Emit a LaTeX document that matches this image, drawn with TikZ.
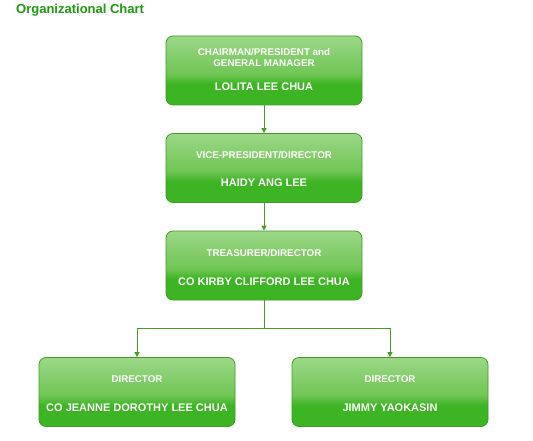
\documentclass[tikz,border=0pt]{standalone}
\usepackage{fontspec}
\setmainfont{Liberation Sans}
\usetikzlibrary{arrows.meta}
\definecolor{gtop}{HTML}{B6E2A6}
\definecolor{gmid}{HTML}{72C657}
\definecolor{gdark}{HTML}{3CB423}
\definecolor{gbot}{HTML}{62CC3C}
\definecolor{gborder}{HTML}{3E9E22}
\definecolor{gline}{HTML}{4A9A2A}
\definecolor{titlegreen}{HTML}{1E9A10}
\pgfdeclareverticalshading{boxshade}{100bp}{color(0bp)=(gbot); color(22bp)=(gdark); color(40bp)=(gdark); color(48bp)=(gmid); color(62bp)=(gmid!70!gtop); color(90bp)=(gtop); color(100bp)=(gtop)}
\tikzset{
  orgbox/.style={draw=gborder, line width=0.8pt, rounded corners=7pt, shading=boxshade, minimum width=196pt, minimum height=69pt, inner sep=0pt},
  lbl/.style={text=white, font=\bfseries\fontsize{9.8}{11.5}\selectfont, align=center, inner sep=0pt},
  nm/.style={text=white, font=\bfseries\fontsize{11}{13}\selectfont, inner sep=0pt},
  conn/.style={draw=gline, line width=0.9pt},
  arr/.style={conn, -{Triangle[length=5pt,width=5pt]}},
}
\begin{document}
\begin{tikzpicture}[x=1pt,y=1pt]
\useasboundingbox[fill=white] (0,0) rectangle (533,-441);
\node[anchor=west, text=titlegreen, font=\bfseries\fontsize{13}{15}\selectfont, inner sep=0pt] (title) at (16,-10) {Organizational Chart};
\node[orgbox] (b1) at (264,-70.5) {};
\node[orgbox] (b2) at (264,-168) {};
\node[orgbox] (b3) at (264,-265.5) {};
\node[orgbox] (b4) at (137,-392) {};
\node[orgbox] (b5) at (390,-392) {};
% texts
\node[lbl] (t1) at (264,-57.5) {CHAIRMAN/PRESIDENT and\\GENERAL MANAGER};
\node[nm] (n1) at (264,-87) {LOLITA LEE CHUA};
\node[lbl] (t2) at (264,-155) {VICE-PRESIDENT/DIRECTOR};
\node[nm] (n2) at (264,-183) {HAIDY ANG LEE};
\node[lbl] (t3) at (264,-253) {TREASURER/DIRECTOR};
\node[nm] (n3) at (264,-282) {CO KIRBY CLIFFORD LEE CHUA};
\node[lbl] (t4) at (137,-379) {DIRECTOR};
\node[nm] (n4) at (137,-408) {CO JEANNE DOROTHY LEE CHUA};
\node[lbl] (t5) at (390,-379) {DIRECTOR};
\node[nm] (n5) at (390,-408) {JIMMY YAOKASIN};
% connectors
\draw[arr] (b1.south) -- (b2.north);
\draw[arr] (b2.south) -- (b3.north);
\coordinate (split) at (264,-328);
\draw[conn] (b3.south) -- (split);
\draw[arr] (split) -| (b4.north);
\draw[arr] (split) -| (b5.north);
\end{tikzpicture}
\end{document}
